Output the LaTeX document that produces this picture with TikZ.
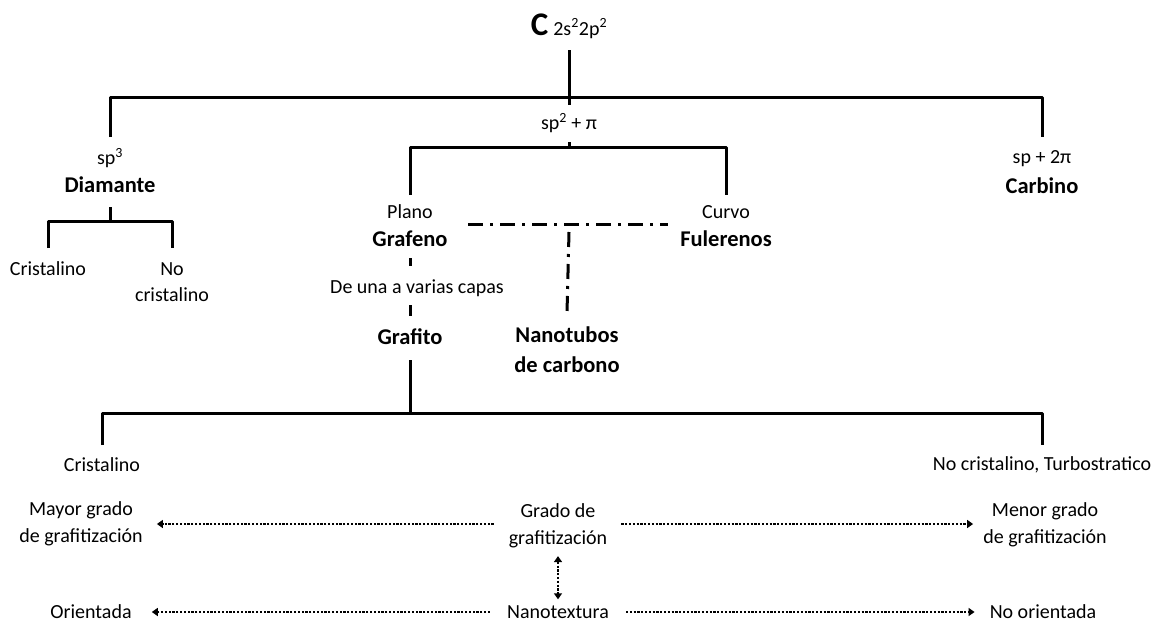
\documentclass[tikz,border=0pt]{standalone}
\usepackage{fontspec}
\setmainfont{Carlito}
\usetikzlibrary{arrows.meta,calc}
\newcommand{\rgtxt}{\fontsize{20}{26.5}\selectfont}
\newcommand{\bdtxt}{\fontsize{22.5}{30}\selectfont\bfseries}
\begin{document}
\begin{tikzpicture}[x=1pt,y=-1pt,
  tree/.style={line width=3pt, line join=round},
  dashdot/.style={line width=3pt, dash pattern=on 15pt off 7pt on 3pt off 7pt},
  dotarrow/.style={line width=2.6pt, dash pattern=on 2.2pt off 1.6pt, -{Triangle[length=6pt,width=8pt]}},
  txt/.style={inner sep=0pt, align=center, font=\rgtxt},
  btxt/.style={inner sep=0pt, align=center, font=\bdtxt},
]
\fill[white] (0,0) rectangle (1157,624);
\useasboundingbox (0,0) rectangle (1157,624);

% nodes
\node[txt] (title) at (569,26) {{\fontsize{33}{33}\selectfont\bfseries C}\kern5pt 2s\textsuperscript{2}2p\textsuperscript{2}};
\node[txt] (sp3) at (110,158) {sp\textsuperscript{3}};
\node[btxt] (diam) at (110,185) {Diamante};
\node[txt] (spc) at (1042,159) {sp + 2π};
\node[btxt] (carb) at (1042,186) {Carbino};
\node[txt] (cr1) at (48,269) {Cristalino};
\node[txt] (nc1) at (172,282) {No\\cristalino};
\node[txt] (plano) at (410,212) {Plano};
\node[btxt] (graf) at (410,239) {Grafeno};
\node[txt] (curvo) at (726,212) {Curvo};
\node[btxt] (ful) at (726,239) {Fulerenos};
\node[txt] (capas) at (417,288) {De una a varias capas};
\node[btxt] (grafito) at (410,337) {Grafito};
\node[btxt] (nano) at (567,350) {Nanotubos\\de carbono};
\node[txt] (cr2) at (102,465) {Cristalino};
\node[txt] (nc2) at (1042,465) {No cristalino, Turbostratico};
\node[txt] (mayor) at (81,524) {Mayor grado\\de grafitización};
\node[txt] (grado) at (558,526) {Grado de\\grafitización};
\node[txt] (menor) at (1045,525) {Menor grado\\de grafitización};
\node[txt] (orient) at (91,612) {Orientada};
\node[txt] (nanotex) at (558,612) {Nanotextura};
\node[txt] (noorient) at (1043,612) {No orientada};

% junctions
\coordinate (j0) at (569,97);
\coordinate (j1) at (569,147);
\coordinate (jd) at (110,221);
\coordinate (jg) at (410,413);
\coordinate (dl) at (468,224);
\coordinate (dr) at (668,224);
\coordinate (dm) at (569,232);

% tree lines
\draw[tree] ($(title)+(0,24)$) -- (j0);
\draw[tree] ($(sp3)+(0,-21)$) |- (j0) -| ($(spc)+(0,-22)$);
\draw[tree] (j0) -- (j1);
\node[txt, fill=white, minimum height=37pt, inner xsep=6pt] (hyb) at (569,123) {sp\textsuperscript{2} + π};
\draw[tree] ($(plano)+(0,-17)$) |- (j1) -| ($(curvo)+(0,-17)$);
\draw[tree] ($(diam)+(0,22)$) -- (jd);
\draw[tree] ($(cr1)+(0,-21)$) |- (jd) -| ($(nc1)+(0,-34)$);
\draw[dashdot] (dl) -- (dr);
\draw[dashdot] (dm) -- ($(nano)+(0,-37)$);
\draw[tree] ($(graf)+(0,19)$) -- ($(graf)+(0,27)$);
\draw[tree] ($(grafito)+(0,-32)$) -- ($(grafito)+(0,-21)$);
\draw[tree] ($(grafito)+(0,23)$) -- (jg);
\draw[tree] ($(cr2)+(0,-20)$) |- (jg) -| ($(nc2)+(0,-20)$);

% dotted arrows
\draw[dotarrow, shorten <=15pt, shorten >=14pt] ([yshift=2pt]grado.west) -- ([yshift=2pt]grado.west -| mayor.east);
\draw[dotarrow, shorten <=14pt, shorten >=10pt] ([yshift=2pt]grado.east) -- ([yshift=2pt]grado.east -| menor.west);
\draw[dotarrow, {Triangle[length=6pt,width=8pt]}-{Triangle[length=6pt,width=8pt]}, shorten <=8pt, shorten >=6pt] (grado.south) -- (nanotex.north);
\draw[dotarrow, shorten <=17pt, shorten >=20pt] (nanotex.west) -- (nanotex.west -| orient.east);
\draw[dotarrow, shorten <=17pt, shorten >=15pt] (nanotex.east) -- (nanotex.east -| noorient.west);
\end{tikzpicture}
\end{document}
